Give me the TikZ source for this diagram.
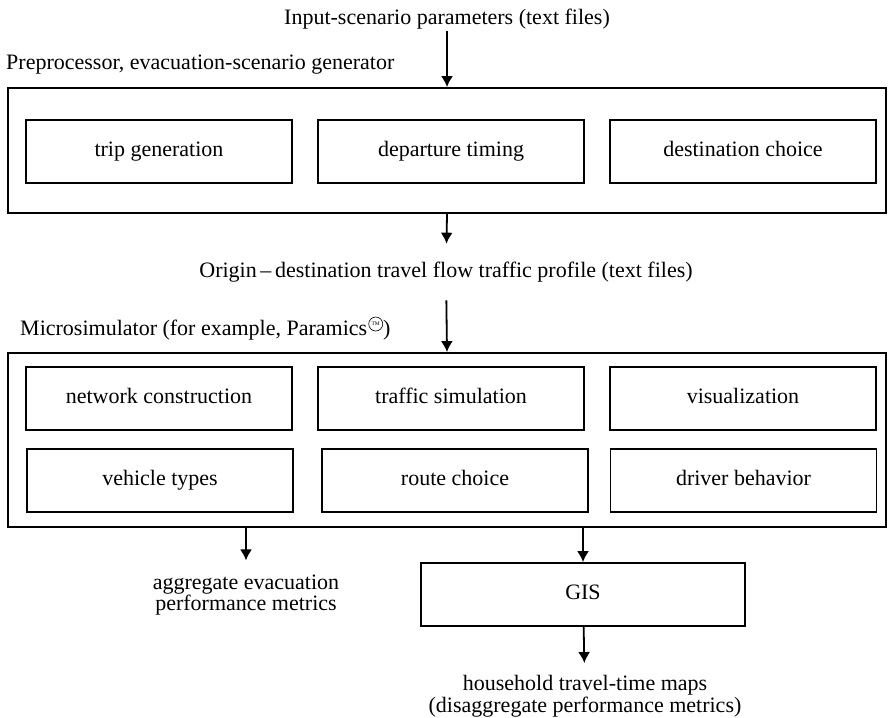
\documentclass[tikz,border=0pt]{standalone}
\usepackage{fontspec}
\setmainfont{Liberation Serif}
\usetikzlibrary{positioning, arrows.meta}
\tikzset{
    block/.style={
        draw, line width = 1.8pt,
        minimum width = 266pt,
        minimum height = 63pt,
        text height = 15pt, text depth = 5pt,
        align = center
    },
    frame/.style = {draw, line width = 1.8pt, minimum width = 878pt},
    txt/.style = {align = center, inner sep = 2pt},
    line/.style = {-{Latex[length=11pt, width=12pt]}, line width = 1.8pt}
}

\begin{document}
\begin{tikzpicture}[x=1pt, y=-1pt, font=\fontsize{22}{21.5}\selectfont]
\useasboundingbox (0,0) rectangle (888,717);

\node[txt] (input) at (447,19) {Input-scenario parameters (text files)};

% Preprocessor
\node[frame, minimum height = 125pt] (pre) at (447,150.5) {};
\node[anchor=west, inner sep=0pt] (prelabel) at (6,65) {Preprocessor, evacuation-scenario generator};
\node[block] (trip) at (159,151.5) {trip generation};
\node[block] (depart) at (451,151.5) {departure timing};
\node[block] (dest) at (743,151.5) {destination choice};

\node[txt] (od) at (446,272) {Origin\,--\,destination travel flow traffic profile (text files)};

% Microsimulator
\node[frame, minimum height = 174pt] (micro) at (447,440) {};
\node[anchor=west, inner sep=0pt] (microlabel) at (20,330) {Microsimulator (for example, Paramics\hspace{16pt})};
\node[draw, circle, line width = 0.6pt, minimum size = 14pt, inner sep = 0pt,
      font = \fontsize{5.5}{5.5}\selectfont] (tm) at ([xshift=-15pt, yshift=6pt]microlabel.east) {TM};
\node[block] (network) at (159,398.5) {network construction};
\node[block] (traffic) at (451,398.5) {traffic simulation};
\node[block] (visual) at (743,398.5) {visualization};
\node[block] (vehicle) at (160,480.5) {vehicle types};
\node[block] (route) at (455,480.5) {route choice};
\node[block] (driver) at (743.5,480.5) {driver behavior};

% Outputs
\node[txt] (aggregate) at (246,595) {aggregate evacuation\\performance metrics};
\node[block, minimum width = 324pt] (gis) at (583,594.5) {GIS};
\node[txt] (household) at (585,696) {household travel-time maps\\(disaggregate performance metrics)};

% Lines
\draw[line] (input) -- (input |- pre.north);
\draw[line, shorten >=16pt] (pre.south) -- (od);
\draw[line, shorten <=16pt] (od) -- (micro.north);
\draw[line, shorten >=12pt] (micro.south -| aggregate) -- (aggregate.north);
\draw[line] (micro.south -| gis) -- (gis.north);
\draw[line, shorten >=10pt] (gis) -- (household);

\end{tikzpicture}
\end{document}
